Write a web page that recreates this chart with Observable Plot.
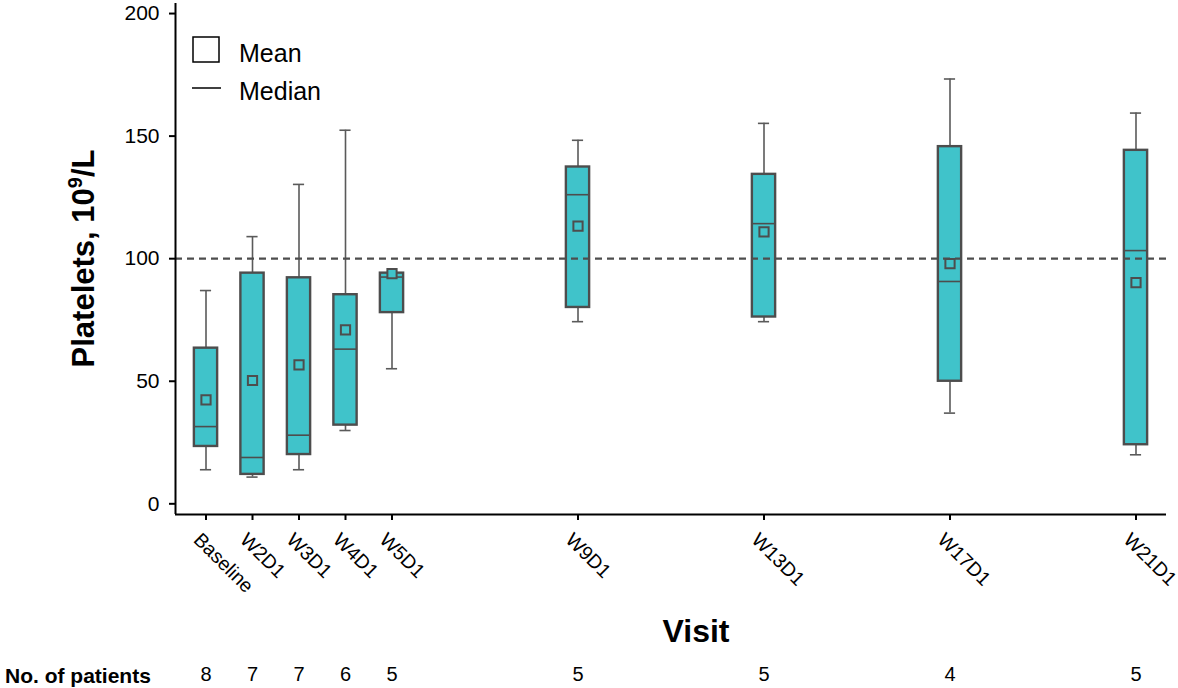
<!DOCTYPE html>
<html>
<head>
<meta charset="utf-8">
<script src="https://cdn.jsdelivr.net/npm/d3@7"></script>
<script src="https://cdn.jsdelivr.net/npm/@observablehq/plot@0.6"></script>
<style>
  html, body { margin: 0; padding: 0; background: #fff; }
  #chart { width: 1178px; height: 688px; overflow: hidden; }
</style>
</head>
<body>
<div id="chart"></div>
<script>
// ---- data ----
const weeks = [1, 2, 3, 4, 5, 9, 13, 17, 21];
const visits = ["Baseline", "W2D1", "W3D1", "W4D1", "W5D1", "W9D1", "W13D1", "W17D1", "W21D1"];
const whiskerLow  = [13.9, 10.9, 13.9, 29.9, 55.1, 74.3, 74.3, 37.0, 20.0];
const q1          = [23.4, 12.0, 20.1, 32.1, 78.0, 80.1, 76.2, 50.0, 24.1];
const median      = [31.5, 18.9, 28.0, 63.1, 92.5, 126.1, 114.3, 90.7, 103.3];
const q3          = [63.5, 94.1, 92.2, 85.3, 94.1, 137.4, 134.4, 145.7, 144.2];
const whiskerHigh = [87.0, 109.0, 130.3, 152.4, 94.1, 148.3, 155.2, 173.3, 159.4];
const mean        = [42.4, 50.3, 56.7, 71.0, 93.9, 113.3, 110.9, 98.0, 90.2];
const nPatients   = [8, 7, 7, 6, 5, 5, 5, 4, 5];
const yTicks = [0, 50, 100, 150, 200];
const refLine = [100];

const data = weeks.map((w, i) => ({
  week: w, visit: visits[i], lo: whiskerLow[i], q1: q1[i], med: median[i],
  q3: q3[i], hi: whiskerHigh[i], mean: mean[i], n: nPatients[i]
}));

const xDomain = [0.344, 21.656];
const yDomain = [-4.36, 204.1];
const boxHalf = 0.25, capHalf = 0.12;
const FONT = '"Liberation Sans", Arial, Helvetica, sans-serif';
const FILL = "#40c3ca", EDGE = "#4d4d4d", WHISK = "#5a5a5a";

const chart = Plot.plot({
  width: 1178, height: 688,
  marginLeft: 175, marginRight: 12, marginTop: 3, marginBottom: 174,
  style: { fontFamily: FONT, color: "#000", background: "#fff", overflow: "visible" },
  x: { domain: xDomain },
  y: { domain: yDomain },
  marks: [
    Plot.ruleX(data, { x: "week", y1: "lo", y2: "hi", stroke: WHISK, strokeWidth: 1.6 }),
    Plot.ruleY(data, { y: "lo", x1: d => d.week - capHalf, x2: d => d.week + capHalf, stroke: WHISK, strokeWidth: 1.6 }),
    Plot.ruleY(data, { y: "hi", x1: d => d.week - capHalf, x2: d => d.week + capHalf, stroke: WHISK, strokeWidth: 1.6 }),
    Plot.rect(data, { x1: d => d.week - boxHalf, x2: d => d.week + boxHalf, y1: "q1", y2: "q3", fill: FILL, stroke: EDGE, strokeWidth: 2.4 }),
    Plot.ruleY(data, { y: "med", x1: d => d.week - boxHalf, x2: d => d.week + boxHalf, stroke: EDGE, strokeWidth: 1.6 }),
    Plot.dot(data, { x: "week", y: "mean", symbol: "square", r: 5.2, fill: FILL, stroke: EDGE, strokeWidth: 2 }),
    Plot.ruleY(refLine, { stroke: EDGE, strokeWidth: 2.2, strokeDasharray: "7,5" }),
    Plot.axisX({ ticks: weeks, tickFormat: d => visits[weeks.indexOf(d)], tickRotate: 45, tickSize: 6, tickPadding: 4, fontSize: 19.5, label: null, strokeWidth: 2, textStroke: "none" }),
    Plot.axisY({ ticks: yTicks, tickSize: 6, tickPadding: 10, fontSize: 21, label: null, strokeWidth: 2 }),
    Plot.ruleX([xDomain[0]], { stroke: "#000", strokeWidth: 2 }),
    Plot.ruleY([yDomain[0]], { stroke: "#000", strokeWidth: 2 }),
    Plot.text(data, { x: "week", text: "n", frameAnchor: "bottom", dy: 166, fontSize: 20, fill: "#000" })
  ]
});

document.getElementById("chart").appendChild(chart);

// shift rotated tick labels to match reference placement
d3.select(chart).selectAll("[aria-label='x-axis tick label'] text")
  .attr("transform", function () {
    const t = this.getAttribute("transform") || "";
    return t.replace(/translate\(([-\d.]+),([-\d.]+)\)/, (m, a, b) => `translate(${+a - 9},${+b + 12})`);
  });

// ---- annotations: titles and legend ----
const svg = d3.select(chart);
const g = svg.append("g").attr("font-family", FONT).attr("fill", "#000").attr("text-anchor", "start");

// y-axis title
const yt = g.append("text")
  .attr("transform", "translate(94,258.5) rotate(-90)")
  .attr("text-anchor", "middle")
  .attr("font-weight", "bold")
  .attr("font-size", 31);
yt.append("tspan").text("Platelets, 10");
yt.append("tspan").attr("font-size", 20).attr("dy", -12).text("9");
yt.append("tspan").attr("dy", 12).text("/L");

// x-axis title
g.append("text").attr("x", 696).attr("y", 642).attr("text-anchor", "middle")
  .attr("font-weight", "bold").attr("font-size", 32).text("Visit");

// patient-count row label
g.append("text").attr("x", 5).attr("y", 683).attr("text-anchor", "start").attr("font-weight", "bold")
  .attr("font-size", 21).text("No. of patients");

// legend
g.append("rect").attr("x", 193).attr("y", 37).attr("width", 26).attr("height", 25)
  .attr("fill", "none").attr("stroke", "#000").attr("stroke-width", 1.5);
g.append("text").attr("x", 239).attr("y", 62).attr("text-anchor", "start").attr("font-size", 25).text("Mean");
g.append("line").attr("x1", 192).attr("x2", 221).attr("y1", 88).attr("y2", 88)
  .attr("stroke", "#000").attr("stroke-width", 1.5);
g.append("text").attr("x", 239).attr("y", 100).attr("text-anchor", "start").attr("font-size", 25).text("Median");
</script>
</body>
</html>
